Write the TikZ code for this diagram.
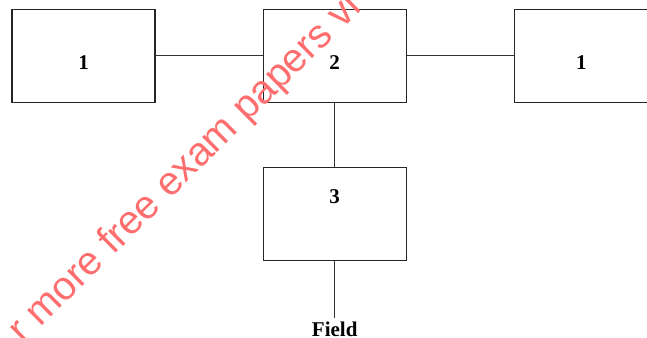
\documentclass[tikz,border=0pt]{standalone}
\usepackage{fontspec}
\setmainfont{Liberation Serif}
\newfontfamily\markfont{Liberation Sans}
\usetikzlibrary{positioning}
\definecolor{markred}{RGB}{255,110,110}
\tikzstyle{blockbox}=[
	rectangle,
	line width=1.2pt,
	draw=black!85,
	minimum width=143pt,
	minimum height=93pt,
	inner sep=0pt,
	node distance=64pt and 107pt
]
\tikzstyle{link}=[
	line width=1pt,
	draw=black!80
]
\tikzstyle{numlabel}=[
	font=\fontsize{21}{24}\selectfont\bfseries,
	inner sep=0pt
]

\begin{document}
\begin{tikzpicture}[x=1pt,y=1pt]
\useasboundingbox (0,0) rectangle (647,337);
\clip (0,0) rectangle (647,337);
\node [blockbox] (lbox) at (83.5,281) {};
\node [blockbox] (mid) [right=of lbox] {}
	edge [link] (lbox);
\node [blockbox, minimum width=134pt] (rbox) [right=of mid] {}
	edge [link] (mid);
\node [blockbox] (low) [below=of mid] {}
	edge [link] (mid);
\node [numlabel, inner sep=3pt] (field) [below=57pt of low] {Field}
	edge [link] (low);
% numbers inside the boxes
\node [numlabel] (lboxnum) at ([yshift=-7pt]lbox.center) {1};
\node [numlabel] (midnum) at ([yshift=-7pt]mid.center) {2};
\node [numlabel] (rboxnum) at ([yshift=-7pt]rbox.center) {1};
\node [numlabel] (lownum) at ([yshift=18pt]low.center) {3};
% watermark
\node [font=\markfont\fontsize{40}{44}\selectfont, text=markred, rotate=44.7, anchor=base west, inner sep=0pt] (mark) at (23.1,-8.1) {r more free exam papers vi};
\end{tikzpicture}
\end{document}
